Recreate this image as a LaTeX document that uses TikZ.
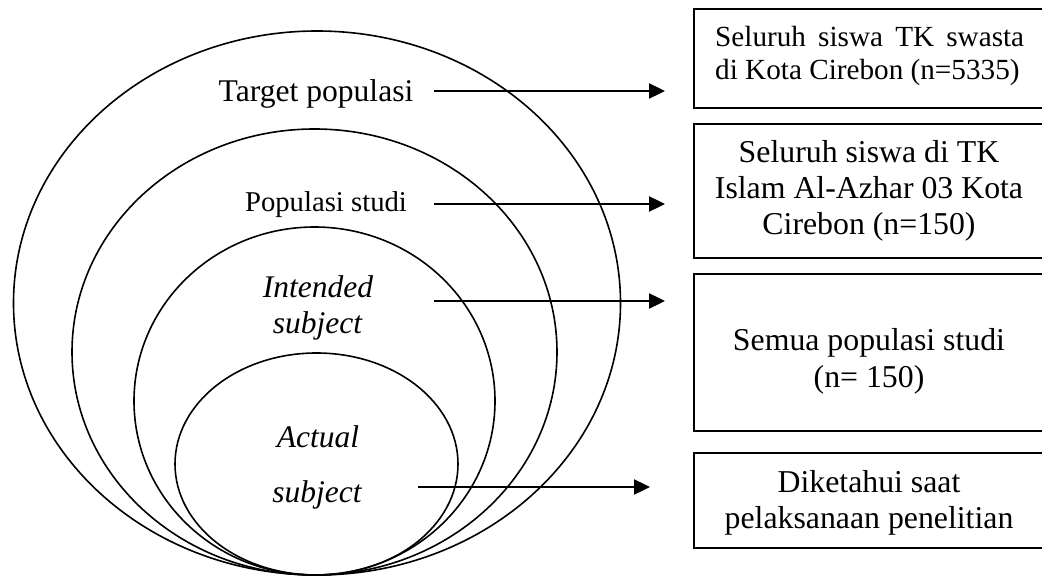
\documentclass[tikz,border=0pt]{standalone}
\usepackage{fontspec}
\setmainfont{Liberation Serif}
\usetikzlibrary{shapes.geometric,arrows.meta}
\begin{document}
\begin{tikzpicture}[x=1pt,y=-1pt,
  ring/.style={draw,ellipse,line width=1.6pt,inner sep=0pt},
  lbl/.style={anchor=base,inner sep=0pt},
  arr/.style={line width=2.4pt,-{Triangle[length=16pt,width=15pt]}},
  boxr/.style={draw,line width=2pt,rectangle,inner sep=0pt,anchor=north west,minimum width=360pt},
  ft/.style={font=\fontsize{31.6pt}{37pt}\selectfont},
  fp/.style={font=\fontsize{28.7pt}{34pt}\selectfont},
  fi/.style={font=\fontsize{31.5pt}{37pt}\selectfont\itshape},
  fb/.style={font=\fontsize{31.8pt}{37pt}\selectfont},
  fs/.style={font=\fontsize{29.2pt}{33pt}\selectfont}
]
\useasboundingbox (0,0) rectangle (1042,577);

% nested circles
\node[ring,minimum width=607pt,minimum height=544pt] (c1) at (317,303) {};
\node[ring,minimum width=485pt,minimum height=446pt] (c2) at (314.5,352) {};
\node[ring,minimum width=361pt,minimum height=348pt] (c3) at (314.5,401) {};
\node[ring,minimum width=283pt,minimum height=222pt] (c4) at (316.5,464) {};

% circle labels
\node[lbl,ft] (tp) at (316,101.5) {Target populasi};
\node[lbl,fp] (ps) at (326,211.5) {Populasi studi};
\node[lbl,fi] (in1) at (318,298) {Intended};
\node[lbl,fi] (in2) at (317.5,334) {subject};
\node[lbl,fi] (ac1) at (318,447) {Actual};
\node[lbl,fi] (ac2) at (317,502) {subject};

% boxes
\node[boxr,minimum height=99pt] (b1) at (693,8) {};
\node[boxr,minimum height=134pt] (b2) at (693,123) {};
\node[boxr,minimum height=157pt] (b3) at (693,273) {};
\node[boxr,minimum height=95pt] (b4) at (693,452) {};

% box texts
\node[lbl,fs,anchor=base west] (t11) at (715,47) {\makebox[309pt][s]{Seluruh siswa TK swasta}};
\node[lbl,fs,anchor=base west] (t12) at (715,80) {di Kota Cirebon (n=5335)};
\node[lbl,fb] (t21) at (869,163) {Seluruh siswa di TK};
\node[lbl,fb] (t22) at (869,199) {Islam Al-Azhar 03 Kota};
\node[lbl,fb] (t23) at (869,235) {Cirebon (n=150)};
\node[lbl,fb] (t31) at (869,351) {Semua populasi studi};
\node[lbl,fb] (t32) at (869,388) {(n= 150)};
\node[lbl,fb] (t41) at (869,492) {Diketahui saat};
\node[lbl,fb] (t42) at (869,528) {pelaksanaan penelitian};

% arrows
\coordinate (s1) at (434,91);  \coordinate (e1) at (665,91);
\coordinate (s2) at (434,204); \coordinate (e2) at (665,204);
\coordinate (s3) at (434,301); \coordinate (e3) at (665,301);
\coordinate (s4) at (418,487); \coordinate (e4) at (650,487);
\draw[arr] (s1) -- (e1);
\draw[arr] (s2) -- (e2);
\draw[arr] (s3) -- (e3);
\draw[arr] (s4) -- (e4);
\end{tikzpicture}
\end{document}
